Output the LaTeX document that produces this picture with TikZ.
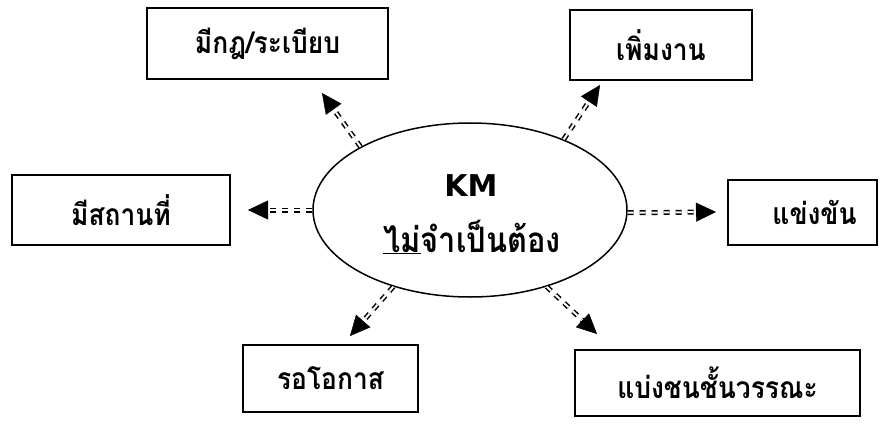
\documentclass[tikz,border=0pt]{standalone}
\usepackage{fontspec}
\setmainfont[Script=Thai]{Loma}
\newfontfamily\thaitall[Script=Thai,FakeStretch=0.88]{Loma}
\newfontfamily\latinfont{DejaVu Sans}
\usetikzlibrary{arrows.meta,shapes.geometric,calc}
\begin{document}
\begin{tikzpicture}[x=1pt,y=-1pt,
  box/.style={draw, line width=1.8pt, rectangle, inner sep=0pt,
    font=\thaitall\fontsize{30}{32}\selectfont\bfseries},
  bubble/.style={draw, line width=1.5pt, ellipse, inner sep=0pt,
    minimum width=314pt, minimum height=174pt},
  dbl/.style={line width=1.5pt, double=white, double distance=2pt,
    dash pattern=on 6pt off 6pt, shorten >=18pt},
  tipst/.style={line width=0.4pt, -{Triangle[length=20pt,width=19pt]}}]
\useasboundingbox (0,0) rectangle (896,425);
% boxes
\node[box, minimum width=241pt, minimum height=71pt] (b1) at (267.5,43.5) {มีกฎ/ระเบียบ};
\node[box, minimum width=182pt, minimum height=70pt] (b2) at (661,45) {เพิ่มงาน};
\node[box, minimum width=218pt, minimum height=70pt] (b3) at (121,210) {มีสถานที่};
\node[box, minimum width=149pt, minimum height=65pt] (b4) at (802.5,212.5) {\hspace*{24pt}แข่งขัน};
\node[box, minimum width=175pt, minimum height=67pt] (b5) at (330.5,378.5) {รอโอกาส};
\node[box, minimum width=285pt, minimum height=66pt] (b6) at (717.5,383) {แบ่งชนชั้นวรรณะ};
% centre
\node[bubble] (km) at (470,210) {};
\node[font=\fontsize{30}{32}\selectfont\bfseries\latinfont] (kmt) at (471,186) {KM};
\node[font=\thaitall\fontsize{35}{37}\selectfont\bfseries] (kmu) at (472,237) {\underline{ไม่}จำเป็นต้อง};
% arrow tips
\coordinate (t1) at (322,93);
\coordinate (t2) at (600,85);
\coordinate (t3) at (248,210);
\coordinate (t4) at (716,212);
\coordinate (t5) at (597,334);
\coordinate (t6) at (350,336);
% connectors
\foreach \a/\t in {150/t1, 37/t2, 180/t3, -1/t4, -45/t5, -135/t6}{
  \draw[dbl] (km.\a) -- (\t);
  \draw[tipst] ($(\t)!1pt!(km.\a)$) -- (\t);
}
\end{tikzpicture}
\end{document}
